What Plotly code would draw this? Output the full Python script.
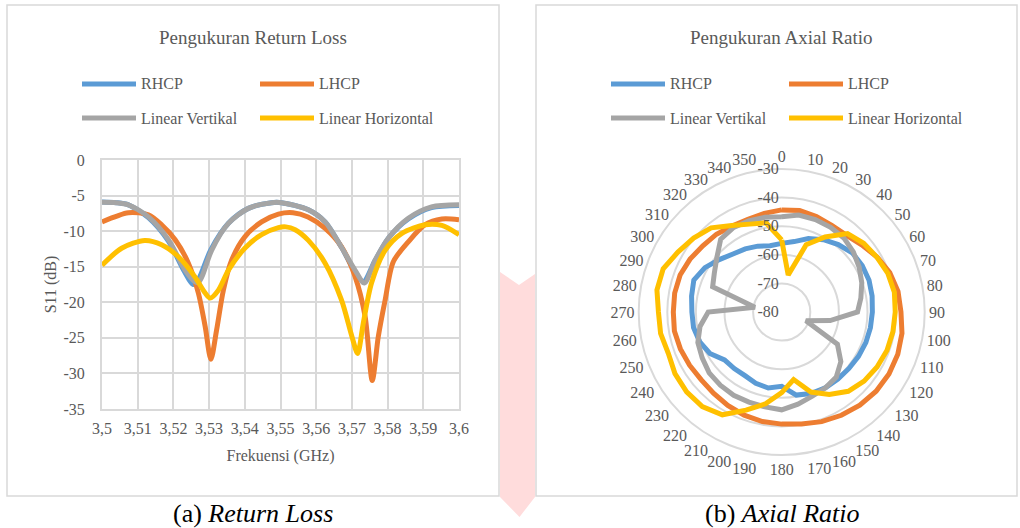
import plotly.graph_objects as go

# ---------------- Return loss data ----------------
freq_rhcp = [3.500, 3.504, 3.5074, 3.513, 3.5186, 3.523, 3.5255, 3.527, 3.5305, 3.5354, 3.541, 3.5475,
             3.5503, 3.5578, 3.5625, 3.567, 3.5705, 3.5732, 3.5765, 3.5802, 3.5858, 3.5923, 3.600]
s11_rhcp = [-5.9, -6.0, -6.3, -8.1, -11.4, -15.6, -17.5, -16.8, -12.6, -8.9, -6.8, -6.0,
            -6.0, -7.0, -8.7, -12.2, -15.4, -17.1, -14.1, -11.0, -8.3, -6.7, -6.4]

freq_lhcp = [3.500, 3.5074, 3.513, 3.5167, 3.5205, 3.5242, 3.527, 3.5289, 3.5305, 3.5321, 3.534, 3.5363,
             3.540, 3.5447, 3.5494, 3.5535, 3.5577, 3.5625, 3.5671, 3.5709, 3.5737, 3.5757, 3.5774,
             3.5793, 3.5816, 3.5858, 3.5905, 3.5952, 3.600]
s11_lhcp = [-8.7, -7.4, -7.7, -9.1, -11.2, -14.5, -18.7, -23.4, -28.0, -23.9, -18.3, -14.1,
            -10.8, -8.7, -7.6, -7.4, -8.0, -9.6, -12.2, -16.4, -22.0, -31.0, -24.8,
            -19.7, -14.3, -11.5, -9.1, -8.3, -8.4]

freq_lv = [3.500, 3.504, 3.5074, 3.513, 3.5186, 3.5233, 3.526, 3.527, 3.528, 3.5307, 3.5354, 3.541,
           3.5475, 3.5503, 3.5578, 3.5625, 3.567, 3.5709, 3.5735, 3.5765, 3.5802, 3.5858, 3.5923, 3.600]
s11_lv = [-5.95, -6.0, -6.3, -8.0, -11.2, -15.5, -17.1, -17.2, -16.4, -12.7, -8.9, -6.8,
          -6.0, -6.0, -7.0, -8.7, -12.2, -15.5, -17.3, -14.1, -11.0, -8.2, -6.6, -6.3]

freq_lh = [3.500, 3.5055, 3.512, 3.5167, 3.5214, 3.526, 3.5289, 3.5303, 3.5326, 3.5354, 3.540, 3.5447,
           3.5494, 3.5515, 3.5541, 3.5578, 3.5625, 3.5671, 3.570, 3.5716, 3.5732, 3.5755, 3.5793,
           3.584, 3.5905, 3.5952, 3.600]
s11_lh = [-14.8, -12.4, -11.3, -11.9, -13.6, -16.4, -18.7, -19.4, -18.3, -15.5, -12.4, -10.5,
          -9.5, -9.4, -9.8, -11.3, -14.5, -19.7, -24.8, -27.2, -22.9, -17.3, -12.7,
          -10.3, -9.1, -9.2, -10.5]

x_tickvals = [3.50, 3.51, 3.52, 3.53, 3.54, 3.55, 3.56, 3.57, 3.58, 3.59, 3.60]
x_ticktext = ["3,5", "3,51", "3,52", "3,53", "3,54", "3,55", "3,56", "3,57", "3,58", "3,59", "3,6"]
y_tickvals = [0, -5, -10, -15, -20, -25, -30, -35]
y_ticktext = ["0", "-5", "-10", "-15", "-20", "-25", "-30", "-35"]

# ---------------- Axial ratio data ----------------
angles = list(range(0, 360, 10))
ar_rhcp = [-56.0, -55.0, -52.7, -50.8, -49.2, -47.8, -47.5, -47.5, -47.9, -48.3, -48.5, -48.7,
           -49.0, -49.3, -49.4, -49.4, -49.7, -50.5, -54.0, -53.0, -53.5, -54.3, -54.2, -53.9,
           -51.0, -49.5, -48.7, -48.6, -48.0, -47.3, -49.0, -51.5, -53.5, -54.5, -55.5, -56.5]
ar_lhcp = [-44.3, -44.0, -44.5, -45.0, -44.9, -43.5, -41.5, -39.8, -38.7, -38.3, -37.3, -36.8,
           -36.7, -36.9, -37.5, -38.3, -39.2, -40.2, -40.8, -41.1, -41.6, -42.3, -42.9, -43.2,
           -42.8, -42.3, -41.9, -42.1, -42.0, -42.2, -43.0, -44.0, -44.5, -45.3, -45.5, -45.0]
ar_lv = [-46.7, -45.6, -45.6, -45.8, -46.2, -47.3, -48.7, -50.2, -51.9, -53.5, -62.8, -71.0,
         -57.5, -53.0, -50.3, -49.4, -48.7, -47.3, -45.8, -46.3, -46.5, -46.4, -46.6, -46.9,
         -47.9, -48.8, -51.0, -54.3, -70.5, -54.3, -52.8, -50.4, -46.8, -46.0, -46.1, -46.4]
ar_lh = [-54.8, -66.9, -55.0, -49.7, -44.2, -42.6, -41.6, -40.5, -40.0, -40.3, -40.5, -40.8,
         -41.5, -42.4, -43.8, -46.7, -50.2, -56.0, -51.8, -47.4, -43.5, -38.5, -36.8, -36.6,
         -36.9, -37.8, -37.0, -36.9, -35.7, -35.9, -38.1, -39.8, -41.6, -45.1, -47.3, -48.3]
r_tickvals = [-80, -70, -60, -50, -40, -30]
r_ticktext = ["-80", "-70", "-60", "-50", "-40", "-30"]
a_ticktext = [str(a) for a in angles]

series_names = ["RHCP", "LHCP", "Linear Vertikal", "Linear Horizontal"]
colors = ["#5B9BD5", "#ED7D31", "#A5A5A5", "#FFC000"]

W, H = 1020, 528
FONT = "Liberation Serif"
TXT = "#595959"
GRID = "#D9D9D9"


def px(x):
    return x / W


def py(y):
    return 1 - y / H


fig = go.Figure()

lc_data = [(freq_rhcp, s11_rhcp), (freq_lhcp, s11_lhcp), (freq_lv, s11_lv), (freq_lh, s11_lh)]
for (fx, fy), name, c in zip(lc_data, series_names, colors):
    fig.add_trace(go.Scatter(x=fx, y=fy, mode="lines", name=name, showlegend=False,
                             line=dict(color=c, width=5, shape="spline", smoothing=0.8),
                             xaxis="x", yaxis="y"))

pol_data = [ar_rhcp, ar_lhcp, ar_lv, ar_lh]
for vals, name, c in zip(pol_data, series_names, colors):
    fig.add_trace(go.Scatterpolar(r=vals + [vals[0]], theta=angles + [angles[0]], mode="lines",
                                  name=name, showlegend=False,
                                  line=dict(color=c, width=5), subplot="polar"))

fig.update_layout(
    width=W, height=H, margin=dict(l=0, r=0, t=0, b=0, pad=0, autoexpand=False),
    showlegend=False,
    paper_bgcolor="white", plot_bgcolor="white",
    font=dict(family=FONT, color=TXT, size=16),
    xaxis=dict(domain=[px(102), px(459)], range=[3.5, 3.6], tickvals=x_tickvals, ticktext=x_ticktext,
               automargin=False,
               showgrid=True, gridcolor=GRID, gridwidth=2, zeroline=False,
               showline=True, linecolor=GRID, linewidth=2, mirror=True, ticks="",
               tickfont=dict(size=16, color=TXT), ticklabelstandoff=4,
               title=dict(text="Frekuensi (GHz)", font=dict(size=16, color=TXT), standoff=14)),
    yaxis=dict(domain=[py(409), py(160)], range=[-35, 0], tickvals=y_tickvals, ticktext=y_ticktext,
               automargin=False,
               showgrid=True, gridcolor=GRID, gridwidth=2, zeroline=False,
               showline=True, linecolor=GRID, linewidth=2, mirror=True, ticks="",
               tickfont=dict(size=16, color=TXT), ticklabelstandoff=12,
               title=dict(text="S11 (dB)", font=dict(size=16, color=TXT), standoff=3)),
    polar=dict(
        domain=dict(x=[px(638.7), px(924.7)], y=[py(455), py(169)]),
        bgcolor="white",
        radialaxis=dict(range=[-80, -30], tickvals=r_tickvals, ticktext=r_ticktext, angle=90,
                        side="counterclockwise", showline=False, ticks="", gridcolor=GRID, gridwidth=2,
                        tickangle=90, tickfont=dict(size=16, color=TXT)),
        angularaxis=dict(rotation=90, direction="clockwise", tickvals=angles, ticktext=a_ticktext,
                         showgrid=False, showline=True, linecolor=GRID, linewidth=2, ticks="",
                         tickfont=dict(size=16, color=TXT)),
    ),
)

shapes = []
annotations = []
# panel frames
shapes.append(dict(type="rect", xref="paper", yref="paper", x0=px(7), x1=px(499), y0=py(496), y1=py(5),
                   line=dict(color=GRID, width=1.5), fillcolor="rgba(0,0,0,0)", layer="below"))
shapes.append(dict(type="rect", xref="paper", yref="paper", x0=px(536), x1=px(1017), y0=py(496), y1=py(5),
                   line=dict(color=GRID, width=1.5), fillcolor="rgba(0,0,0,0)", layer="below"))
# pink arrow between panels
pts = [(500, 272), (519, 285), (535, 274), (535, 497), (519.5, 517), (500, 497)]
path = "M " + " L ".join(f"{px(x):.5f},{py(y):.5f}" for x, y in pts) + " Z"
shapes.append(dict(type="path", xref="paper", yref="paper", path=path, fillcolor="#FFDCDC",
                   line=dict(width=0), layer="below"))

# chart titles
for cx, t in [(253, "Pengukuran Return Loss"), (781, "Pengukuran Axial Ratio")]:
    annotations.append(dict(x=px(cx), y=py(37), xref="paper", yref="paper", text=t, showarrow=False,
                            font=dict(size=19, color=TXT, family=FONT), xanchor="center", yanchor="middle"))

# legends (2 x 2 layout in each panel)
for off in (0, 529):
    for i, (name, c) in enumerate(zip(series_names, colors)):
        col, row = i % 2, i // 2
        x0 = 82 + off + col * 178
        yy = 84 + row * 34
        shapes.append(dict(type="line", xref="paper", yref="paper", x0=px(x0), x1=px(x0 + 54),
                           y0=py(yy), y1=py(yy), line=dict(color=c, width=5)))
        annotations.append(dict(x=px(x0 + 57), y=py(yy), xref="paper", yref="paper", text=name,
                                showarrow=False, xanchor="left", yanchor="middle",
                                font=dict(size=16, color=TXT, family=FONT)))

# captions
annotations.append(dict(x=px(253), y=py(513), xref="paper", yref="paper", text="(a) <i>Return Loss</i>",
                        showarrow=False, xanchor="center", yanchor="middle",
                        font=dict(size=26, color="black", family=FONT)))
annotations.append(dict(x=px(782), y=py(513), xref="paper", yref="paper", text="(b) <i>Axial Ratio</i>",
                        showarrow=False, xanchor="center", yanchor="middle",
                        font=dict(size=26, color="black", family=FONT)))

fig.update_layout(shapes=shapes, annotations=annotations)

fig.write_html("out.html", config={"displayModeBar": False},
               post_script="document.body.style.margin='0';document.body.style.overflow='hidden';")
